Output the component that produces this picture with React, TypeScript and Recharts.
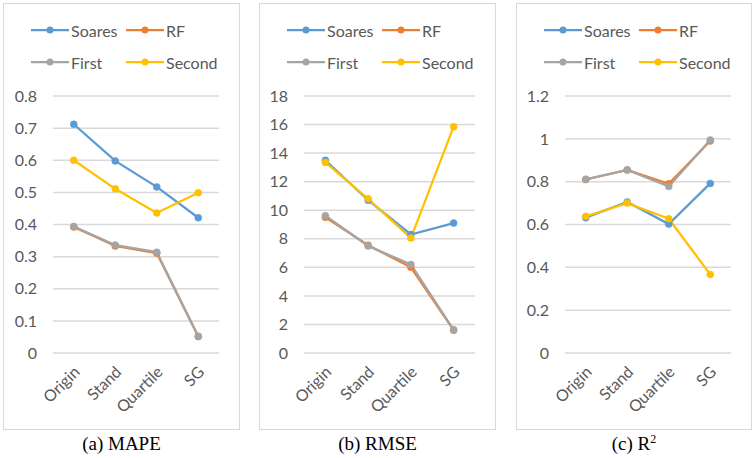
import React from "react";
import { LineChart, Line, XAxis, YAxis, CartesianGrid } from "recharts";

const categories = ["Origin", "Stand", "Quartile", "SG"];
const seriesNames = ["Soares", "RF", "First", "Second"];
const seriesColors = ["#5B9BD5", "#ED7D31", "#A5A5A5", "#FFC000"];

const mapeSoares = [0.712, 0.598, 0.517, 0.421];
const mapeRF = [0.392, 0.333, 0.311, 0.051];
const mapeFirst = [0.394, 0.336, 0.314, 0.052];
const mapeSecond = [0.6, 0.511, 0.436, 0.499];

const rmseSoares = [13.5, 10.7, 8.3, 9.1];
const rmseRF = [9.5, 7.55, 6.0, 1.6];
const rmseFirst = [9.62, 7.5, 6.2, 1.62];
const rmseSecond = [13.35, 10.8, 8.05, 15.85];

const r2Soares = [0.632, 0.705, 0.602, 0.792];
const r2RF = [0.81, 0.855, 0.79, 0.99];
const r2First = [0.811, 0.855, 0.778, 0.995];
const r2Second = [0.638, 0.7, 0.627, 0.367];

const mapeTicks = [0, 0.1, 0.2, 0.3, 0.4, 0.5, 0.6, 0.7, 0.8];
const rmseTicks = [0, 2, 4, 6, 8, 10, 12, 14, 16, 18];
const r2Ticks = [0, 0.2, 0.4, 0.6, 0.8, 1, 1.2];

function buildData(s: number[][]) {
  return categories.map((c, i) => {
    const row: any = { name: c };
    seriesNames.forEach((n, k) => {
      row[n] = s[k][i];
    });
    return row;
  });
}

const FONT = "Lato, 'Open Sans', sans-serif";

function Legend2x2({ left }: { left: number }) {
  const pos = [
    { x: 28, y: 30 },
    { x: 123, y: 30 },
    { x: 28, y: 62 },
    { x: 123, y: 62 },
  ];
  return (
    <>
      {seriesNames.map((n, i) => (
        <div
          key={n}
          style={{
            position: "absolute",
            left: left + pos[i].x,
            top: pos[i].y - 10,
            height: 20,
            display: "flex",
            alignItems: "center",
            fontFamily: FONT,
            fontSize: 16,
            color: "#595959",
            whiteSpace: "nowrap",
          }}
        >
          <svg width={40} height={20} style={{ display: "block" }}>
            <line x1={0} y1={10} x2={38} y2={10} stroke={seriesColors[i]} strokeWidth={2.25} />
            <circle cx={19} cy={10} r={3.5} fill={seriesColors[i]} />
          </svg>
          <span>{n}</span>
        </div>
      ))}
    </>
  );
}

function Panel(props: {
  left: number;
  width: number;
  yWidth: number;
  rightPad: number;
  data: any[];
  ticks: number[];
  caption: React.ReactNode;
}) {
  const { left, width, yWidth, rightPad, data, ticks, caption } = props;
  const top = 3;
  const height = 427;
  const halfBand = (width - yWidth - rightPad) / 8;
  return (
    <>
      <div
        style={{
          position: "absolute",
          left,
          top,
          width,
          height,
          border: "1.5px solid #D9D9D9",
          boxSizing: "border-box",
        }}
      />
      <div style={{ position: "absolute", left, top }}>
        <LineChart
          width={width}
          height={height}
          data={data}
          margin={{ top: 93, right: rightPad, left: 0, bottom: 0 }}
        >
          <CartesianGrid vertical={false} stroke="#D9D9D9" strokeWidth={1.5} />
          <XAxis
            dataKey="name"
            height={77}
            axisLine={false}
            tickLine={false}
            interval={0}
            padding={{ left: halfBand, right: halfBand }}
            tick={{ fontFamily: FONT, fontSize: 16, fill: "#595959", angle: -45, textAnchor: "end", dx: -1 } as any}
            tickMargin={6}
          />
          <YAxis
            width={yWidth}
            domain={[ticks[0], ticks[ticks.length - 1]]}
            ticks={ticks}
            interval={0}
            axisLine={false}
            tickLine={false}
            tickMargin={10}
            tick={{ fontFamily: FONT, fontSize: 16, fill: "#595959" }}
          />
          {seriesNames.map((n, i) => (
            <Line
              key={n}
              dataKey={n}
              stroke={seriesColors[i]}
              strokeWidth={2.25}
              dot={{ r: 3.5, fill: seriesColors[i], stroke: seriesColors[i], strokeWidth: 0.5 }}
              isAnimationActive={false}
            />
          ))}
        </LineChart>
      </div>
      <Legend2x2 left={left} />
      <div
        style={{
          position: "absolute",
          left,
          width,
          top: 432,
          textAlign: "center",
          fontFamily: "'Liberation Serif', 'Times New Roman', serif",
          fontSize: 19,
          color: "#000",
          lineHeight: "24px",
        }}
      >
        {caption}
      </div>
    </>
  );
}

export default function App() {
  const mapeData = buildData([mapeSoares, mapeRF, mapeFirst, mapeSecond]);
  const rmseData = buildData([rmseSoares, rmseRF, rmseFirst, rmseSecond]);
  const r2Data = buildData([r2Soares, r2RF, r2First, r2Second]);
  return (
    <div style={{ position: "absolute", left: 0, top: 0, width: 755, height: 458, background: "#fff", overflow: "hidden" }}>
      <Panel left={3} width={237} yWidth={50} rightPad={21} data={mapeData} ticks={mapeTicks} caption="(a) MAPE" />
      <Panel left={259} width={237} yWidth={45} rightPad={21} data={rmseData} ticks={rmseTicks} caption="(b) RMSE" />
      <Panel
        left={516}
        width={236}
        yWidth={49}
        rightPad={21}
        data={r2Data}
        ticks={r2Ticks}
        caption={
          <span>
            (c) R<sup style={{ fontSize: 12, verticalAlign: "top", lineHeight: "14px" }}>2</sup>
          </span>
        }
      />
    </div>
  );
}
